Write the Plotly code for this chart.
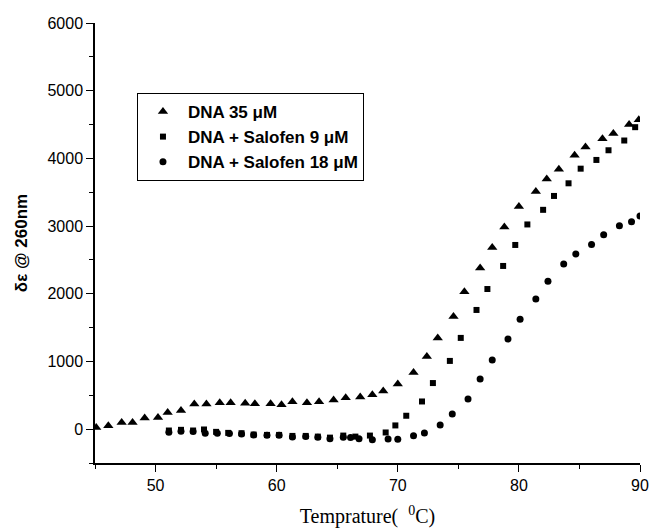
import plotly.graph_objects as go

# Melting curves: change in molar absorptivity at 260 nm vs temperature
temp_dna = [45.1, 46.1, 47.2, 48.1, 49.1, 50.2, 51.0, 52.1, 53.2, 54.2,
            55.3, 56.2, 57.4, 58.2, 59.5, 60.4, 61.3, 62.5, 63.5, 64.7,
            65.7, 66.9, 67.9, 68.8, 70.0, 71.3, 72.4, 73.3, 74.6, 75.5,
            76.8, 77.8, 78.8, 80.0, 81.4, 82.3, 83.3, 84.6, 85.5, 86.9,
            87.8, 89.1, 89.9]
de_dna = [25, 50, 99, 99, 164, 173, 247, 276, 371, 371,
          390, 390, 383, 375, 375, 360, 405, 390, 405, 430,
          464, 474, 508, 565, 668, 837, 1074, 1346, 1665, 2029,
          2382, 2684, 2985, 3289, 3511, 3694, 3840, 4048, 4167, 4289,
          4367, 4500, 4570]

temp_s9 = [51.1, 52.1, 53.1, 54.0, 55.0, 56.0, 57.1, 58.1, 59.2, 60.2,
           61.3, 62.4, 63.4, 64.4, 65.5, 66.5, 67.7, 69.0, 69.8, 70.7,
           72.0, 72.9, 74.3, 75.2, 76.5, 77.4, 78.7, 79.7, 80.7, 82.0,
           82.9, 84.1, 85.1, 86.4, 87.4, 88.7, 89.6]
de_s9 = [-20, -10, -20, -5, -40, -55, -60, -80, -85, -85,
         -100, -100, -110, -125, -95, -110, -95, -49, 55, 198,
         409, 681, 1008, 1348, 1761, 2070, 2411, 2721, 3024, 3240,
         3445, 3632, 3848, 3977, 4120, 4264, 4461]

temp_s18 = [51.1, 52.1, 53.1, 54.1, 55.1, 56.1, 57.1, 58.1, 59.2, 60.2,
            61.3, 62.4, 63.4, 64.4, 65.5, 66.1, 66.8, 67.9, 69.2, 70.0,
            71.3, 72.2, 73.5, 74.5, 75.8, 76.8, 77.8, 79.1, 80.1, 81.4,
            82.4, 83.7, 84.7, 86.0, 87.0, 88.3, 89.3, 90.0]
de_s18 = [-45, -30, -35, -60, -60, -65, -70, -85, -90, -90,
          -115, -110, -120, -140, -120, -125, -140, -155, -146, -150,
          -97, -58, 61, 223, 445, 742, 1020, 1331, 1622, 1922,
          2185, 2440, 2588, 2728, 2873, 3004, 3063, 3150]

series_names = ["DNA 35 μM", "DNA + Salofen 9 μM", "DNA + Salofen 18 μM"]

fig = go.Figure()
fig.add_trace(go.Scatter(x=temp_dna, y=de_dna, mode="markers", name=series_names[0],
                         marker=dict(symbol="triangle-up", size=9, color="black")))
fig.add_trace(go.Scatter(x=temp_s9, y=de_s9, mode="markers", name=series_names[1],
                         marker=dict(symbol="square", size=6, color="black")))
fig.add_trace(go.Scatter(x=temp_s18, y=de_s18, mode="markers", name=series_names[2],
                         marker=dict(symbol="circle", size=7, color="black")))

axis_common = dict(
    showline=True, linecolor="black", linewidth=1.5,
    ticks="outside", ticklen=7, tickwidth=1.2, tickcolor="black",
    showgrid=False, zeroline=False, mirror=False, automargin=False,
    tickfont=dict(family="Liberation Sans, Arial, sans-serif", size=16, color="black"),
)

fig.update_xaxes(
    range=[45, 90], tick0=50, dtick=10,
    minor=dict(ticks="outside", ticklen=4, dtick=5, tick0=45, tickcolor="black", tickwidth=1.2),
    title=dict(text="Temprature(  <sup>0</sup>C)", standoff=16,
               font=dict(family="Liberation Serif, Times New Roman, serif", size=20, color="black")),
    **axis_common,
)
fig.update_yaxes(
    range=[-500, 6000], tick0=0, dtick=1000,
    minor=dict(ticks="outside", ticklen=4, dtick=500, tick0=0, tickcolor="black", tickwidth=1.2),
    title=dict(text="<b>δε @ 260nm</b>", standoff=16,
               font=dict(family="Liberation Sans, Arial, sans-serif", size=17, color="black")),
    **axis_common,
)

fig.update_layout(
    width=649, height=532,
    margin=dict(l=95, r=9, t=23, b=69),
    plot_bgcolor="white", paper_bgcolor="white",
    showlegend=True,
    legend=dict(
        x=0.077, y=0.841, xanchor="left", yanchor="top",
        bordercolor="black", borderwidth=1, bgcolor="white",
        font=dict(family="Liberation Sans, Arial, sans-serif", size=17, color="black", weight="bold"),
        tracegroupgap=0, itemsizing="trace", itemwidth=40,
    ),
)

fig.write_html("out.html")
